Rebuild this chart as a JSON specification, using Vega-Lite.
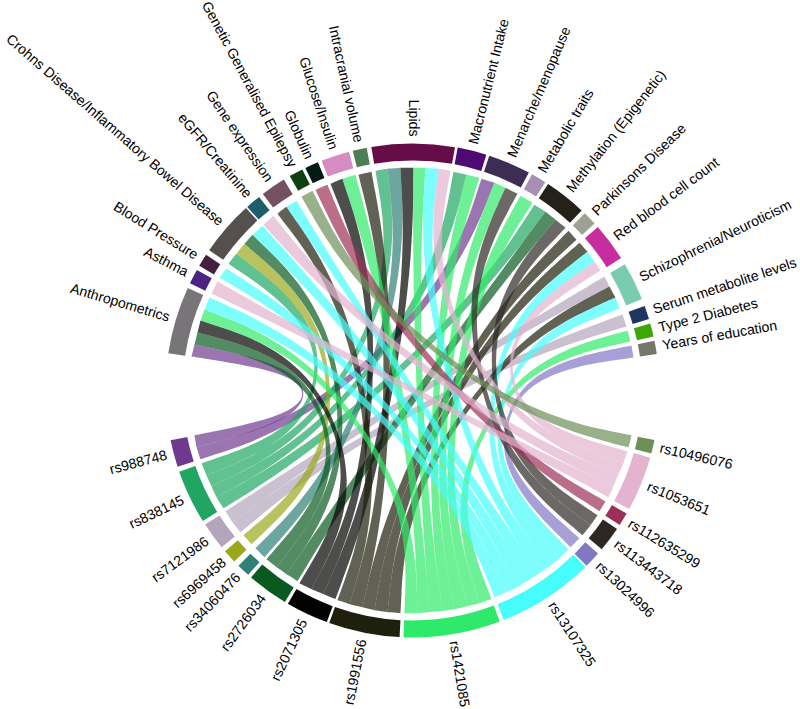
{"$schema":"https://vega.github.io/schema/vega-lite/v6.json","width":800,"height":709,"padding":0,"autosize":{"type":"fit","contains":"padding"},"background":"white","config":{"view":{"stroke":null}},
"datasets":{"sectors":[
{"name":"Anthropometrics","a0":-81.35,"a1":-65.5,"mid":-73.4,"rot":16.6,"side":"l"},
{"name":"Asthma","a0":-64.3,"a1":-60.8,"mid":-62.55,"rot":27.45,"side":"l"},
{"name":"Blood Pressure","a0":-59.7,"a1":-56.7,"mid":-58.2,"rot":31.8,"side":"l"},
{"name":"Crohns Disease/Inflammatory Bowel Disease","a0":-55.4,"a1":-42.4,"mid":-48.9,"rot":41.1,"side":"l"},
{"name":"eGFR/Creatinine","a0":-42,"a1":-38.4,"mid":-40.2,"rot":49.8,"side":"l"},
{"name":"Gene expression","a0":-37.3,"a1":-31.4,"mid":-34.35,"rot":55.65,"side":"l"},
{"name":"Genetic Generalised Epilepsy","a0":-29.8,"a1":-26.5,"mid":-28.15,"rot":61.85,"side":"l"},
{"name":"Globulin","a0":-25.7,"a1":-22.5,"mid":-24.1,"rot":65.9,"side":"l"},
{"name":"Glucose/Insulin","a0":-21.6,"a1":-14.9,"mid":-18.25,"rot":71.75,"side":"l"},
{"name":"Intracranial volume","a0":-14,"a1":-10.7,"mid":-12.35,"rot":77.65,"side":"l"},
{"name":"Lipids","a0":-9.6,"a1":9.9,"mid":0.15,"rot":90,"side":"l"},
{"name":"Macronutrient Intake","a0":10.55,"a1":17.4,"mid":13.98,"rot":-76,"side":"r"},
{"name":"Menarche/menopause","a0":18.1,"a1":28.1,"mid":23.1,"rot":-66.9,"side":"r"},
{"name":"Metabolic traits","a0":28.95,"a1":32.5,"mid":30.7,"rot":-59.3,"side":"r"},
{"name":"Methylation (Epigenetic)","a0":33.3,"a1":43.2,"mid":38.25,"rot":-51.75,"side":"r"},
{"name":"Parkinsons Disease","a0":44.2,"a1":47.5,"mid":45.85,"rot":-44.15,"side":"r"},
{"name":"Red blood cell count","a0":48.6,"a1":57.6,"mid":53.1,"rot":-36.9,"side":"r"},
{"name":"Schizophrenia/Neuroticism","a0":59.3,"a1":68.3,"mid":63.8,"rot":-26.2,"side":"r"},
{"name":"Serum metabolite levels","a0":70,"a1":73.2,"mid":71.6,"rot":-18.4,"side":"r"},
{"name":"Type 2 Diabetes","a0":74.3,"a1":77.4,"mid":75.85,"rot":-14.15,"side":"r"},
{"name":"Years of education","a0":78.4,"a1":81.5,"mid":79.95,"rot":-10.05,"side":"r"},
{"name":"rs10496076","a0":101.6,"a1":104.8,"mid":103.2,"rot":13.2,"side":"r"},
{"name":"rs1053651","a0":105.8,"a1":118.7,"mid":112.25,"rot":22.25,"side":"r"},
{"name":"rs112635299","a0":119.9,"a1":123,"mid":121.45,"rot":31.45,"side":"r"},
{"name":"rs113443718","a0":124.1,"a1":130,"mid":127,"rot":37,"side":"r"},
{"name":"rs13024996","a0":131.3,"a1":135.2,"mid":133.25,"rot":43.25,"side":"r"},
{"name":"rs13107325","a0":135.6,"a1":158.3,"mid":146.95,"rot":56.95,"side":"r"},
{"name":"rs1421085","a0":159.3,"a1":182.1,"mid":170.7,"rot":80.7,"side":"r"},
{"name":"rs1991556","a0":183,"a1":199.7,"mid":191.35,"rot":-78.65,"side":"l"},
{"name":"rs2071305","a0":200.3,"a1":210.3,"mid":205.3,"rot":-64.7,"side":"l"},
{"name":"rs2726034","a0":211.1,"a1":220.8,"mid":215.95,"rot":-54.05,"side":"l"},
{"name":"rs34060476","a0":221.7,"a1":224.8,"mid":223.25,"rot":-46.75,"side":"l"},
{"name":"rs6969458","a0":226.2,"a1":229.4,"mid":227.8,"rot":-42.2,"side":"l"},
{"name":"rs7121986","a0":230.6,"a1":237.1,"mid":233.85,"rot":-36.15,"side":"l"},
{"name":"rs838145","a0":238.1,"a1":250.8,"mid":244.45,"rot":-25.55,"side":"l"},
{"name":"rs988748","a0":252,"a1":258.35,"mid":255.2,"rot":-14.8,"side":"l"}
],
"links":[
{"snp":"rs988748","trait":"Anthropometrics","x":[-221,-221,-221,-218,-218,-218,-105,-104,-216,-216,-216,-218,-218,-218,-105,-106],"y":[34,34,34,46,46,46,22,-27,-57,-57,-57,-45,-45,-45,-22,16]},
{"snp":"rs988748","trait":"Menarche","x":[69,69,69,82,82,82,39,-102,-212,-212,-212,-216,-216,-216,-104,33],"y":[212,212,212,208,208,208,100,-33,-69,-69,-69,-57,-57,-57,-27,102]},
{"snp":"rs838145","trait":"Crohns","x":[-184,-184,-184,-176,-176,-176,-84,-99,-206,-206,-206,-211,-211,-211,-101,-88],"y":[127,127,127,137,137,137,66,-41,-85,-85,-85,-73,-73,-73,-35,61]},
{"snp":"rs838145","trait":"Lipids","x":[-37,-37,-37,-25,-25,-25,-12,-96,-201,-201,-201,-206,-206,-206,-99,-18],"y":[220,220,220,222,222,222,107,-46,-96,-96,-96,-85,-85,-85,-41,106]},
{"snp":"rs838145","trait":"Macro","x":[41,41,41,54,54,54,26,-94,-196,-196,-196,-201,-201,-201,-96,20],"y":[219,219,219,216,216,216,104,-51,-107,-107,-107,-96,-96,-96,-46,105]},
{"snp":"rs838145","trait":"Methyl","x":[122,122,122,133,133,133,64,-91,-189,-189,-189,-196,-196,-196,-94,59],"y":[186,186,186,179,179,179,86,-57,-118,-118,-118,-107,-107,-107,-51,89]},
{"snp":"rs7121986","trait":"Schizo","x":[192,192,192,197,197,197,95,-86,-180,-180,-180,-187,-187,-187,-90,92],"y":[114,114,114,104,104,104,50,-63,-132,-132,-132,-121,-121,-121,-58,55]},
{"snp":"rs7121986","trait":"Serum","x":[210,210,210,214,214,214,103,-83,-172,-172,-172,-180,-180,-180,-86,101],"y":[76,76,76,64,64,64,31,-68,-142,-142,-142,-132,-132,-132,-63,36]},
{"snp":"rs6969458","trait":"Crohns","x":[-176,-176,-176,-168,-168,-168,-81,-77,-161,-161,-161,-169,-169,-169,-81,-84],"y":[137,137,137,147,147,147,71,-74,-154,-154,-154,-145,-145,-145,-70,66]},
{"snp":"rs34060476","trait":"Lipids","x":[-25,-25,-25,-12,-12,-12,-6,-71,-148,-148,-148,-157,-157,-157,-75,-12],"y":[222,222,222,223,223,223,107,-80,-167,-167,-167,-158,-158,-158,-76,107]},
{"snp":"rs2726034","trait":"Anthropometrics","x":[-218,-218,-218,-215,-215,-215,-103,-65,-136,-136,-136,-146,-146,-146,-70,-105],"y":[46,46,46,58,58,58,28,-85,-177,-177,-177,-169,-169,-169,-81,22]},
{"snp":"rs2726034","trait":"Crohns","x":[-168,-168,-168,-160,-160,-160,-77,-60,-126,-126,-126,-136,-136,-136,-65,-81],"y":[147,147,147,156,156,156,75,-88,-184,-184,-184,-177,-177,-177,-85,71]},
{"snp":"rs2726034","trait":"Methyl","x":[133,133,133,143,143,143,69,-55,-115,-115,-115,-126,-126,-126,-60,64],"y":[179,179,179,171,171,171,82,-92,-191,-191,-191,-184,-184,-184,-88,86]},
{"snp":"rs2071305","trait":"Anthropometrics","x":[-215,-215,-215,-212,-212,-212,-102,-48,-101,-101,-101,-113,-113,-113,-54,-103],"y":[58,58,58,70,70,70,34,-96,-199,-199,-199,-193,-193,-193,-93,28]},
{"snp":"rs2071305","trait":"Glucose","x":[-82,-82,-82,-70,-70,-70,-34,-43,-89,-89,-89,-101,-101,-101,-48,-39],"y":[207,207,207,212,212,212,102,-98,-204,-204,-204,-199,-199,-199,-96,99]},
{"snp":"rs2071305","trait":"Lipids","x":[-12,-12,-12,1,1,1,0,-37,-77,-77,-77,-89,-89,-89,-43,-6],"y":[223,223,223,223,223,223,107,-100,-209,-209,-209,-204,-204,-204,-98,107]},
{"snp":"rs1991556","trait":"Gene","x":[-135,-135,-135,-126,-126,-126,-60,-30,-63,-63,-63,-75,-75,-75,-36,-65],"y":[177,177,177,184,184,184,88,-103,-214,-214,-214,-210,-210,-210,-101,85]},
{"snp":"rs1991556","trait":"Intracranial","x":[-54,-54,-54,-41,-41,-41,-20,-24,-50,-50,-50,-63,-63,-63,-30,-26],"y":[216,216,216,219,219,219,105,-104,-217,-217,-217,-214,-214,-214,-103,104]},
{"snp":"rs1991556","trait":"Parkinsons","x":[156,156,156,164,164,164,79,-18,-38,-38,-38,-50,-50,-50,-24,75],"y":[160,160,160,151,151,151,72,-106,-220,-220,-220,-217,-217,-217,-104,77]},
{"snp":"rs1991556","trait":"Red","x":[167,167,167,175,175,175,84,-12,-25,-25,-25,-38,-38,-38,-18,80],"y":[148,148,148,139,139,139,67,-107,-222,-222,-222,-220,-220,-220,-106,71]},
{"snp":"rs1991556","trait":"Schizo","x":[197,197,197,203,203,203,97,-6,-12,-12,-12,-25,-25,-25,-12,95],"y":[104,104,104,93,93,93,45,-107,-223,-223,-223,-222,-222,-222,-107,50]},
{"snp":"rs1421085","trait":"Anthropometrics","x":[-212,-212,-212,-208,-208,-208,-100,2,5,5,5,-8,-8,-8,-4,-102],"y":[70,70,70,81,81,81,39,-107,-223,-223,-223,-223,-223,-223,-107,34]},
{"snp":"rs1421085","trait":"Glucose","x":[-70,-70,-70,-57,-57,-57,-27,8,17,17,17,5,5,5,2,-34],"y":[212,212,212,216,216,216,104,-107,-222,-222,-222,-223,-223,-223,-107,102]},
{"snp":"rs1421085","trait":"Lipids","x":[1,1,1,13,13,13,6,14,30,30,30,17,17,17,8,0],"y":[223,223,223,223,223,223,107,-106,-221,-221,-221,-222,-222,-222,-107,107]},
{"snp":"rs1421085","trait":"Macro","x":[54,54,54,67,67,67,32,20,42,42,42,30,30,30,14,26],"y":[216,216,216,213,213,213,102,-105,-219,-219,-219,-221,-221,-221,-106,104]},
{"snp":"rs1421085","trait":"Menarche","x":[82,82,82,93,93,93,45,26,55,55,55,42,42,42,20,39],"y":[208,208,208,203,203,203,97,-104,-216,-216,-216,-219,-219,-219,-105,100]},
{"snp":"rs1421085","trait":"Metabolic","x":[108,108,108,120,120,120,58,32,67,67,67,55,55,55,26,52],"y":[195,195,195,188,188,188,90,-102,-213,-213,-213,-216,-216,-216,-104,94]},
{"snp":"rs1421085","trait":"T2D","x":[215,215,215,218,218,218,105,38,79,79,79,67,67,67,32,103],"y":[60,60,60,49,49,49,24,-100,-209,-209,-209,-213,-213,-213,-102,29]},
{"snp":"rs13107325","trait":"Anthropometrics","x":[-208,-208,-208,-203,-203,-203,-97,45,94,94,94,82,82,82,39,-100],"y":[81,81,81,93,93,93,45,-97,-202,-202,-202,-207,-207,-207,-99,39]},
{"snp":"rs13107325","trait":"BP","x":[-193,-193,-193,-186,-186,-186,-89,50,105,105,105,94,94,94,45,-93],"y":[113,113,113,122,122,122,59,-95,-197,-197,-197,-202,-202,-202,-97,54]},
{"snp":"rs13107325","trait":"Crohns","x":[-160,-160,-160,-150,-150,-150,-72,56,116,116,116,105,105,105,50,-77],"y":[156,156,156,165,165,165,79,-91,-190,-190,-190,-197,-197,-197,-95,75]},
{"snp":"rs13107325","trait":"Gene","x":[-126,-126,-126,-116,-116,-116,-56,61,127,127,127,116,116,116,56,-60],"y":[184,184,184,190,190,190,91,-88,-183,-183,-183,-190,-190,-190,-91,88]},
{"snp":"rs13107325","trait":"Lipids","x":[13,13,13,26,26,26,12,66,137,137,137,127,127,127,61,6],"y":[223,223,223,222,222,222,107,-84,-176,-176,-176,-183,-183,-183,-88,107]},
{"snp":"rs13107325","trait":"Red","x":[175,175,175,182,182,182,87,71,147,147,147,137,137,137,66,84],"y":[139,139,139,129,129,129,62,-81,-168,-168,-168,-176,-176,-176,-84,67]},
{"snp":"rs13107325","trait":"Schizo","x":[203,203,203,207,207,207,99,75,156,156,156,147,147,147,71,97],"y":[93,93,93,82,82,82,39,-76,-159,-159,-159,-168,-168,-168,-81,45]},
{"snp":"rs13024996","trait":"Years","x":[219,219,219,221,221,221,106,80,167,167,167,158,158,158,76,105],"y":[45,45,45,33,33,33,16,-71,-148,-148,-148,-157,-157,-157,-75,22]},
{"snp":"rs113443718","trait":"Menarche","x":[93,93,93,105,105,105,50,85,178,178,178,170,170,170,82,45],"y":[203,203,203,197,197,197,95,-65,-135,-135,-135,-145,-145,-145,-70,97]},
{"snp":"rs113443718","trait":"Methyl","x":[143,143,143,153,153,153,73,89,185,185,185,178,178,178,85,69],"y":[171,171,171,163,163,163,78,-60,-125,-125,-125,-135,-135,-135,-65,82]},
{"snp":"rs112635299","trait":"Globulin","x":[-97,-97,-97,-85,-85,-85,-41,93,193,193,193,187,187,187,90,-47],"y":[201,201,201,206,206,206,99,-53,-111,-111,-111,-121,-121,-121,-58,96]},
{"snp":"rs1053651","trait":"Asthma","x":[-201,-201,-201,-195,-195,-195,-94,96,201,201,201,196,196,196,94,-96],"y":[97,97,97,109,109,109,52,-46,-96,-96,-96,-107,-107,-107,-51,47]},
{"snp":"rs1053651","trait":"eGFR","x":[-149,-149,-149,-139,-139,-139,-67,99,206,206,206,201,201,201,96,-72],"y":[166,166,166,175,175,175,84,-40,-84,-84,-84,-96,-96,-96,-46,80]},
{"snp":"rs1053651","trait":"Lipids","x":[26,26,26,38,38,38,18,101,211,211,211,206,206,206,99,12],"y":[222,222,222,220,220,220,106,-35,-73,-73,-73,-84,-84,-84,-40,107]},
{"snp":"rs1053651","trait":"Red","x":[182,182,182,188,188,188,90,103,215,215,215,211,211,211,101,87],"y":[129,129,129,120,120,120,58,-29,-61,-61,-61,-73,-73,-73,-35,62]},
{"snp":"rs10496076","trait":"GGE","x":[-111,-111,-111,-100,-100,-100,-48,105,219,219,219,216,216,216,104,-53],"y":[194,194,194,200,200,200,96,-22,-45,-45,-45,-57,-57,-57,-27,93]}
]},
"layer":[
{"data":{"name":"links"},"transform":[{"flatten":["x","y"]}],
"mark":{"type":"line","interpolate":"basis-closed","strokeWidth":0,"fillOpacity":0.7},
"encoding":{
"x":{"field":"x","type":"quantitative","scale":{"domain":[-412.5,387.5],"nice":false,"zero":false},"axis":null},
"y":{"field":"y","type":"quantitative","scale":{"domain":[-319,390],"nice":false,"zero":false},"axis":null},
"order":{"value":null},
"detail":{"field":"trait"},
"fill":{"field":"snp","type":"nominal","legend":null,"scale":{"domain":["rs10496076","rs1053651","rs112635299","rs113443718","rs13024996","rs13107325","rs1421085","rs1991556","rs2071305","rs2726034","rs34060476","rs6969458","rs7121986","rs838145","rs988748"],"range":["#6d9058","#e3b3cf","#9c3058","#2d2823","#8077c5","#46fdfb","#2fea6a","#1e200c","#020300","#0a5a20","#2f8075","#9aa81a","#b3a5bb","#20a662","#6f3a8e"]}}
}},
{"data":{"name":"sectors"},
"mark":{"type":"arc","radius":247,"radius2":230},
"encoding":{
"x":{"datum":0,"type":"quantitative"},
"y":{"datum":0,"type":"quantitative"},
"theta":{"field":"a0","type":"quantitative","scale":{"domain":[-90,270],"range":[-1.5708,4.7124]}},
"theta2":{"field":"a1"},
"color":{"field":"name","type":"nominal","legend":null,"sort":null,"scale":{"domain":["Anthropometrics","Asthma","Blood Pressure","Crohns Disease/Inflammatory Bowel Disease","eGFR/Creatinine","Gene expression","Genetic Generalised Epilepsy","Globulin","Glucose/Insulin","Intracranial volume","Lipids","Macronutrient Intake","Menarche/menopause","Metabolic traits","Methylation (Epigenetic)","Parkinsons Disease","Red blood cell count","Schizophrenia/Neuroticism","Serum metabolite levels","Type 2 Diabetes","Years of education","rs10496076","rs1053651","rs112635299","rs113443718","rs13024996","rs13107325","rs1421085","rs1991556","rs2071305","rs2726034","rs34060476","rs6969458","rs7121986","rs838145","rs988748"],"range":["#777577","#4b2382","#44203f","#55504e","#1f5f6b","#745060","#0f4012","#041a15","#d48cc3","#4f7d55","#660d48","#4d0a72","#3d2d55","#a78fb5","#24201a","#9ea096","#c72d9f","#79ccb0","#1e3560","#3fa50a","#757868","#6d9058","#e3b3cf","#9c3058","#2d2823","#8077c5","#46fdfb","#2fea6a","#1e200c","#020300","#0a5a20","#2f8075","#9aa81a","#b3a5bb","#20a662","#6f3a8e"]}}
}},
{"data":{"name":"sectors"},"transform":[{"filter":"datum.side=='l'"}],
"mark":{"type":"text","align":"right","baseline":"middle","font":"Liberation Sans","fontSize":14.1,"color":"#000"},
"encoding":{
"x":{"datum":0,"type":"quantitative"},
"y":{"datum":0,"type":"quantitative"},
"theta":{"field":"mid","type":"quantitative"},
"radius":{"value":254},
"angle":{"field":"rot","type":"quantitative","scale":null},
"text":{"field":"name"}
}},
{"data":{"name":"sectors"},"transform":[{"filter":"datum.side=='r'"}],
"mark":{"type":"text","align":"left","baseline":"middle","font":"Liberation Sans","fontSize":14.1,"color":"#000"},
"encoding":{
"x":{"datum":0,"type":"quantitative"},
"y":{"datum":0,"type":"quantitative"},
"theta":{"field":"mid","type":"quantitative"},
"radius":{"value":254},
"angle":{"field":"rot","type":"quantitative","scale":null},
"text":{"field":"name"}
}}
]}
